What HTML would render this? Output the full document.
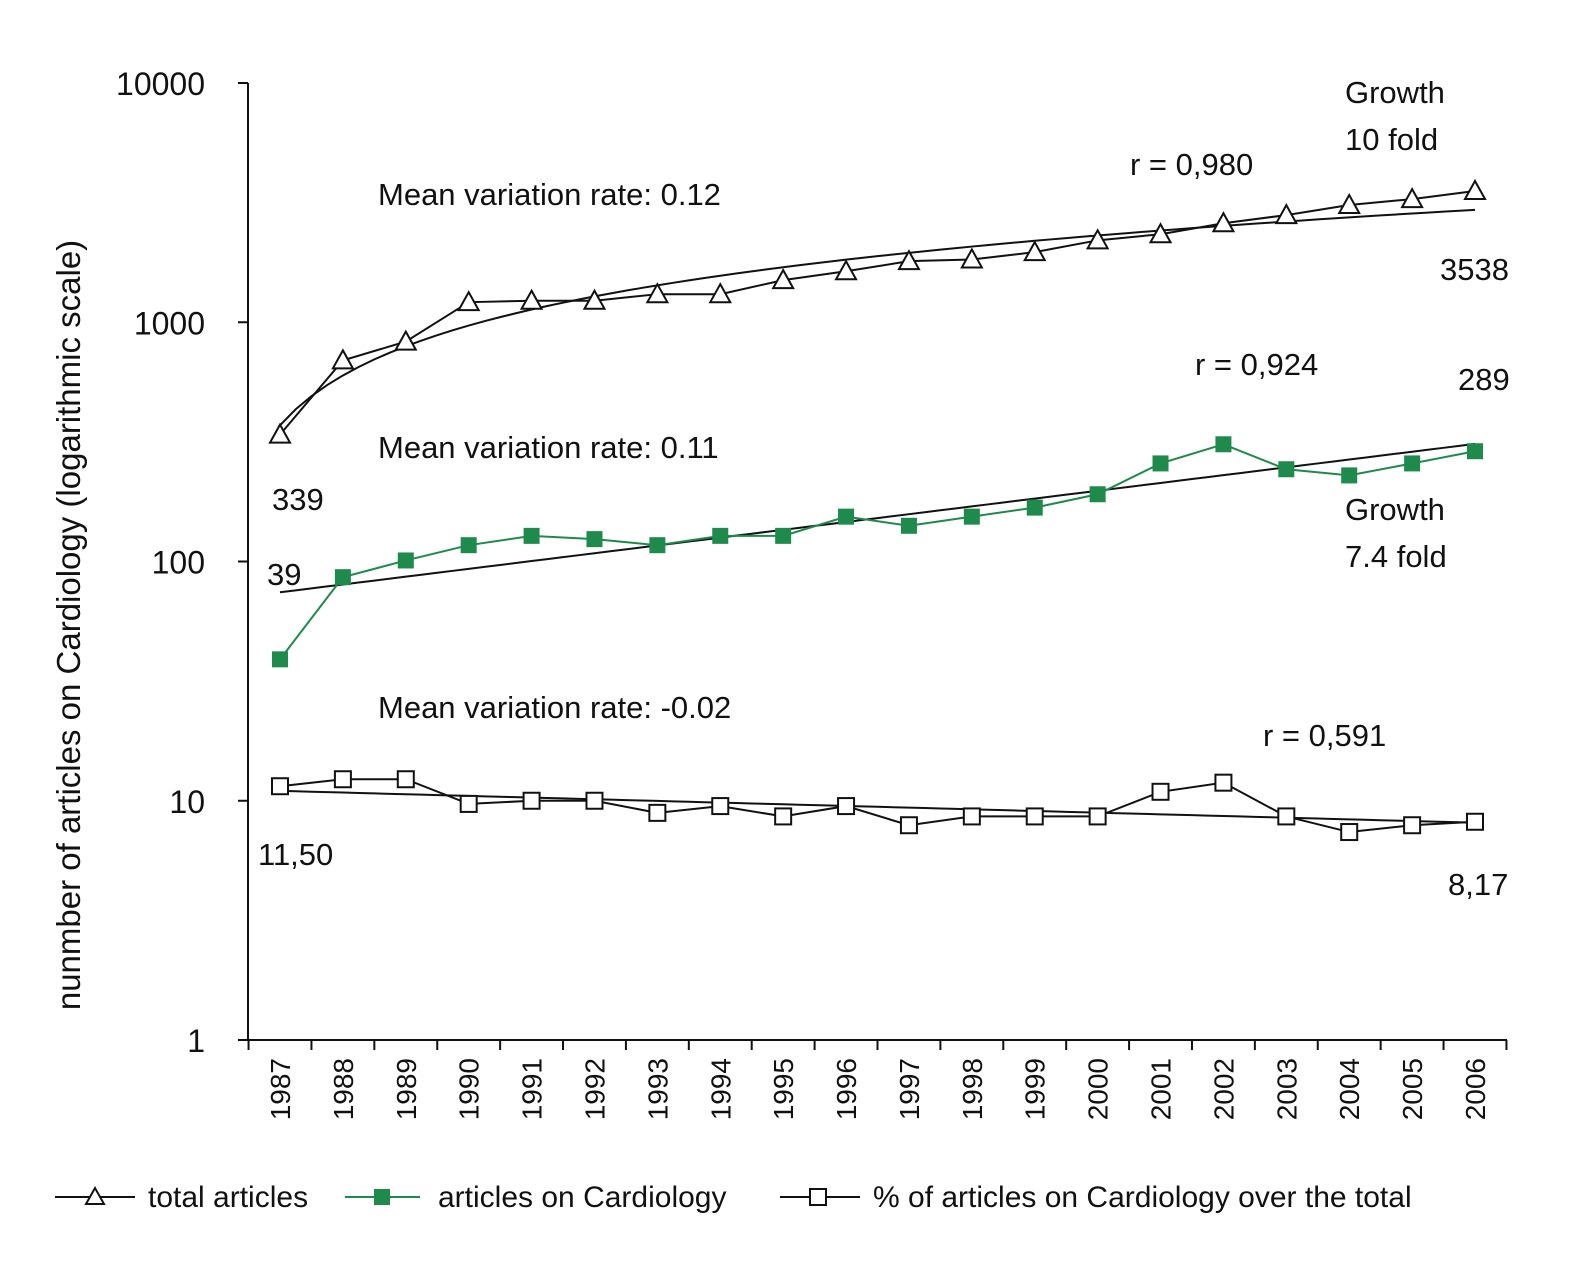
<!DOCTYPE html>
<html><head><meta charset="utf-8"><style>
body{margin:0;background:#fff}
svg text{font-family:"Liberation Sans Narrow","Liberation Sans",sans-serif;fill:#111}
</style></head><body>
<svg id="chart" width="1570" height="1262" viewBox="0 0 1570 1262" xmlns="http://www.w3.org/2000/svg">
<g id="axes"></g>
<g id="marks"></g>
<g font-size="31">
<text x="378" y="205">Mean variation rate: 0.12</text>
<text x="378" y="458">Mean variation rate: 0.11</text>
<text x="378" y="718">Mean variation rate: -0.02</text>
<text x="1130" y="175">r = 0,980</text>
<text x="1345" y="103">Growth</text>
<text x="1345" y="150">10 fold</text>
<text x="1440" y="280">3538</text>
<text x="1195" y="375">r = 0,924</text>
<text x="1458" y="390">289</text>
<text x="272" y="510">339</text>
<text x="1345" y="520">Growth</text>
<text x="1345" y="567">7.4 fold</text>
<text x="267" y="585">39</text>
<text x="1263" y="746">r = 0,591</text>
<text x="258" y="865">11,50</text>
<text x="1448" y="895">8,17</text>
</g>
<text font-size="33" text-anchor="middle" transform="translate(80,625) rotate(-90)">nunmber of articles on Cardiology (logarithmic scale)</text>
<g font-size="30">
<g>
<line x1="55" y1="1197" x2="135" y2="1197" stroke="#111" stroke-width="2"/>
<polygon points="95,1188 86,1204 104,1204" fill="#fff" stroke="#111" stroke-width="2"/>
<text x="148" y="1207">total articles</text></g>
<g>
<line x1="345" y1="1197" x2="420" y2="1197" stroke="#1e8a4c" stroke-width="2"/>
<rect x="374" y="1189" width="16" height="16" fill="#1e8a4c"/>
<text x="438" y="1207">articles on Cardiology</text></g>
<g>
<line x1="780" y1="1197" x2="860" y2="1197" stroke="#111" stroke-width="2"/>
<rect x="810" y="1189" width="16" height="16" fill="#fff" stroke="#111" stroke-width="2"/>
<text x="873" y="1207">% of articles on Cardiology over the total</text></g>
</g>
</svg>
<script>
const years=[1987,1988,1989,1990,1991,1992,1993,1994,1995,1996,1997,1998,1999,2000,2001,2002,2003,2004,2005,2006];
const totalArticles=[339,693,830,1213,1230,1230,1310,1310,1500,1633,1800,1830,1963,2200,2333,2594,2805,3090,3272,3538];
const cardiology=[39,86,101,117,128,124,117,128,128,154,141,154,168,191,257,309,243,229,257,289];
const percentCardio=[11.5,12.3,12.3,9.7,10,10,8.9,9.5,8.6,9.5,7.9,8.6,8.6,8.6,10.9,11.9,8.6,7.4,7.9,8.17];
const yTicks=[1,10,100,1000,10000];
const NS="http://www.w3.org/2000/svg";
const X0=280,DX=(1475-280)/19,Y1=1040,DEC=239.25;
const xS=i=>X0+i*DX;
const yS=v=>Y1-Math.log10(v)*DEC;
function mk(tag,attrs,parent){const e=document.createElementNS(NS,tag);for(const k in attrs)e.setAttribute(k,attrs[k]);parent.appendChild(e);return e;}
const axes=document.getElementById('axes'),marks=document.getElementById('marks');
let a=mk('line',{x1:248,y1:83,x2:248,y2:1040,stroke:'#111','stroke-width':2},axes);


a=mk('line',{x1:248,y1:1040,x2:1507,y2:1040,stroke:'#111','stroke-width':2},axes);


yTicks.forEach(t=>{
  const y=yS(t);
  mk('line',{x1:238,y1:y,x2:248,y2:y,stroke:'#111','stroke-width':2},axes);
  const tx=mk('text',{x:205,y:y+12,'text-anchor':'end','font-size':32},axes);
  tx.textContent=t;
  
  
});
for(let i=0;i<=20;i++){const x=X0-DX/2+i*DX;mk('line',{x1:x,y1:1040,x2:x,y2:1050,stroke:'#111','stroke-width':2},axes);}
years.forEach((yr,i)=>{
  const tx=mk('text',{'font-size':28,'text-anchor':'end',transform:`translate(${xS(i)+10},1058) rotate(-90)`},axes);
  tx.textContent=yr;
  
  
});
function trend(vals,name,kind){
  const n=vals.length;let sx=0,sy=0,sxx=0,sxy=0;
  const f=i=>kind==='pow'?Math.log(i+1):i;
  vals.forEach((v,i)=>{const x=f(i),y=Math.log10(v);sx+=x;sy+=y;sxx+=x*x;sxy+=x*y;});
  const b=(n*sxy-sx*sy)/(n*sxx-sx*sx),A=(sy-b*sx)/n;
  let pts=[];for(let t=0;t<=n-1;t+=0.25){pts.push(xS(t)+','+(Y1-(A+b*f(t))*DEC));}
  const p=mk('polyline',{points:pts.join(' '),fill:'none',stroke:'#111','stroke-width':2},marks);
  
  
}
function series(vals,color,name,marker){
  const p=mk('polyline',{points:vals.map((v,i)=>xS(i)+','+yS(v)).join(' '),fill:'none',stroke:color,'stroke-width':2},marks);
  
  
  vals.forEach((v,i)=>{
    const x=xS(i),y=yS(v);let m;
    if(marker==='tri')m=mk('polygon',{points:`${x},${y-10} ${x-10},${y+8} ${x+10},${y+8}`,fill:'#fff',stroke:'#111','stroke-width':2},marks);
    else if(marker==='fsq')m=mk('rect',{x:x-8,y:y-8,width:16,height:16,fill:color},marks);
    else m=mk('rect',{x:x-8,y:y-8,width:16,height:16,fill:'#fff',stroke:'#111','stroke-width':2},marks);
    
    
  });
}
trend(totalArticles,'total-trend','pow');
trend(cardiology,'cardiology-trend','exp');
trend(percentCardio,'percent-trend','exp');
series(totalArticles,'#111','total-articles','tri');
series(cardiology,'#1e8a4c','cardiology-articles','fsq');
series(percentCardio,'#111','percent-cardiology','osq');
</script>
</body></html>
